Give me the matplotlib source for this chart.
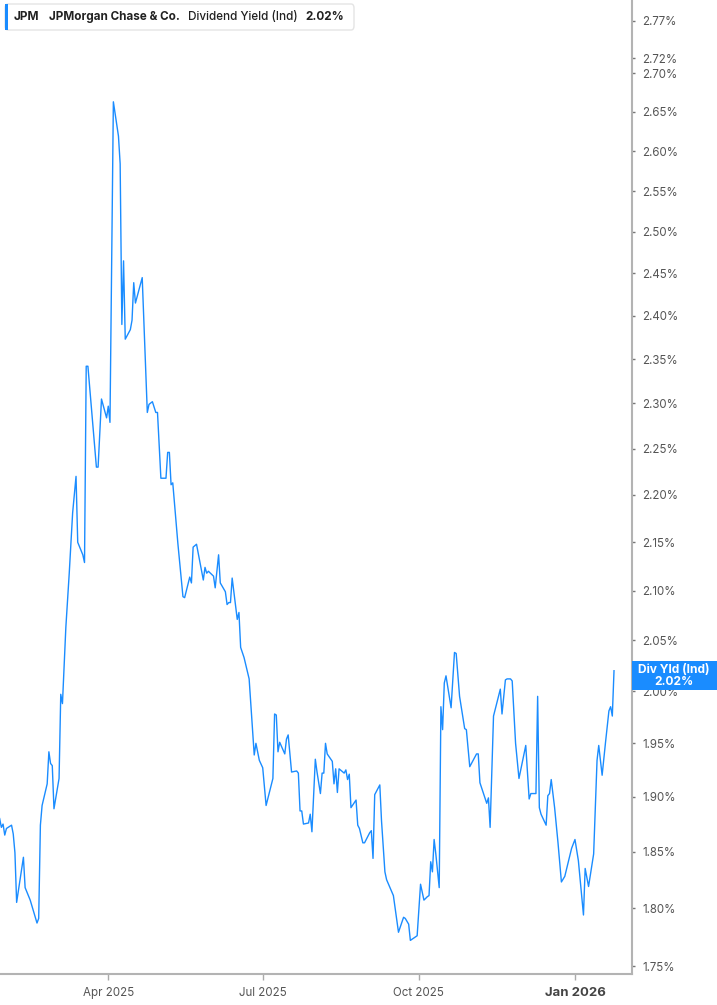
import numpy as np
import pandas as pd
import matplotlib
matplotlib.use('Agg')
import matplotlib.pyplot as plt
from matplotlib.patches import FancyBboxPatch, Rectangle
from matplotlib.ticker import FixedLocator, FixedFormatter, NullLocator, NullFormatter

plt.rcParams['font.family'] = ['Inter', 'DejaVu Sans']

# JPM dividend yield (indicated)
start = pd.Timestamp('2025-01-27')
day = [0, 1, 2, 3, 4, 7, 8, 9, 10, 14, 15, 18, 22, 23, 24, 25, 28, 29, 30, 31,
       32, 35, 36, 37, 39, 41, 43, 45, 46, 49, 50, 51, 52, 57, 58, 60, 63, 64, 65, 67,
       70, 71, 72, 73, 74, 77, 78, 79, 80, 84, 87, 88, 90, 92, 93, 95, 98, 99, 100, 101,
       102, 105, 108, 109, 112, 113, 114, 116, 120, 121, 122, 123, 126, 127, 129, 130, 133, 134, 135, 136,
       137, 140, 141, 142, 144, 147, 150, 151, 153, 155, 157, 161, 162, 163, 164, 165, 168, 169, 170, 172,
       175, 176, 177, 178, 179, 182, 183, 184, 186, 187, 189, 190, 191, 192, 193, 196, 197, 198, 199, 200,
       203, 204, 205, 206, 207, 210, 211, 212, 214, 215, 218, 219, 220, 221, 224, 225, 227, 228, 232, 235,
       238, 239, 241, 242, 246, 248, 250, 252, 253, 254, 255, 256, 257, 259, 260, 261, 262, 263, 266, 268,
       269, 271, 274, 275, 277, 281, 282, 283, 287, 288, 289, 291, 295, 296, 298, 299, 301, 302, 304, 306,
       310, 312, 313, 316, 317, 318, 319, 322, 323, 324, 325, 327, 329, 331, 333, 337, 339, 341, 344, 345,
       347, 350, 352, 353, 355, 357, 359, 360, 361, 362]
yld = [1.880, 1.872, 1.875, 1.865, 1.871, 1.874, 1.866, 1.849, 1.805, 1.845, 1.818, 1.807, 1.787, 1.791, 1.874, 1.892, 1.912, 1.942, 1.931, 1.929,
       1.889, 1.917, 1.997, 1.988, 2.063, 2.118, 2.181, 2.220, 2.150, 2.137, 2.129, 2.342, 2.342, 2.230, 2.230, 2.305, 2.284, 2.297, 2.279, 2.663,
       2.619, 2.584, 2.390, 2.465, 2.373, 2.384, 2.395, 2.439, 2.415, 2.445, 2.290, 2.299, 2.302, 2.290, 2.290, 2.218, 2.218, 2.246, 2.246, 2.211,
       2.213, 2.149, 2.094, 2.093, 2.114, 2.108, 2.145, 2.148, 2.111, 2.124, 2.118, 2.120, 2.115, 2.103, 2.137, 2.108, 2.099, 2.086, 2.088, 2.088,
       2.113, 2.071, 2.078, 2.043, 2.033, 2.012, 1.939, 1.950, 1.934, 1.927, 1.892, 1.917, 1.978, 1.977, 1.942, 1.951, 1.940, 1.954, 1.958, 1.923,
       1.924, 1.922, 1.887, 1.887, 1.875, 1.876, 1.884, 1.868, 1.935, 1.923, 1.903, 1.922, 1.922, 1.950, 1.940, 1.933, 1.912, 1.926, 1.904, 1.926,
       1.922, 1.925, 1.916, 1.921, 1.890, 1.897, 1.874, 1.871, 1.858, 1.858, 1.867, 1.869, 1.844, 1.902, 1.911, 1.878, 1.832, 1.825, 1.811, 1.779,
       1.792, 1.791, 1.786, 1.772, 1.776, 1.821, 1.807, 1.810, 1.811, 1.841, 1.832, 1.861, 1.848, 1.818, 1.985, 1.963, 2.008, 2.015, 1.984, 2.038,
       2.037, 1.995, 1.964, 1.963, 1.928, 1.940, 1.940, 1.913, 1.894, 1.899, 1.872, 1.976, 2.002, 1.978, 2.011, 2.012, 2.012, 2.010, 1.950, 1.917,
       1.948, 1.898, 1.903, 1.903, 1.995, 1.890, 1.884, 1.874, 1.901, 1.903, 1.916, 1.890, 1.858, 1.823, 1.828, 1.853, 1.861, 1.842, 1.794, 1.835,
       1.819, 1.848, 1.934, 1.948, 1.920, 1.951, 1.981, 1.985, 1.976, 2.020]

ytick_vals = [1.75, 1.80, 1.85, 1.90, 1.95, 2.00, 2.05, 2.10, 2.15, 2.20, 2.25,
              2.30, 2.35, 2.40, 2.45, 2.50, 2.55, 2.60, 2.65, 2.70, 2.72, 2.77]
xtick_dates = ['2025-04-01', '2025-07-01', '2025-10-01', '2026-01-01']
xtick_labels = ['Apr 2025', 'Jul 2025', 'Oct 2025', 'Jan 2026']

dates = start + pd.to_timedelta(day, unit='D')
last = yld[-1]

W, H = 717, 1005
fig = plt.figure(figsize=(W / 100, H / 100), dpi=100)
ax = fig.add_axes([0, 31 / H, 632 / W, 974 / H])

ax.plot(dates, yld, color='#1a8cff', lw=1.0)

ax.set_yscale('log')
ax.set_ylim(1.7433, 2.798)
ax.set_xlim(start + pd.Timedelta(days=0.2), start + pd.Timedelta(days=372.6))

ax.yaxis.tick_right()
ax.yaxis.set_major_locator(FixedLocator(ytick_vals))
ax.yaxis.set_major_formatter(FixedFormatter([f'{v:.2f}%' for v in ytick_vals]))
ax.yaxis.set_minor_locator(NullLocator())
ax.yaxis.set_minor_formatter(NullFormatter())
ax.tick_params(axis='y', which='major', direction='out', length=2.5, width=1,
               color='#777777', labelsize=8.3, labelcolor='#555555', pad=5)

ax.set_xticks(pd.to_datetime(xtick_dates))
ax.set_xticklabels(xtick_labels)
ax.tick_params(axis='x', direction='out', length=4, width=1, color='#aaaaaa',
               labelsize=8.3, labelcolor='#555555', pad=5)
xl = ax.get_xticklabels()
xl[-1].set_fontweight('bold')
xl[-1].set_color('#444444')
xl[-1].set_fontsize(9.5)

for s in ['top', 'left']:
    ax.spines[s].set_visible(False)
for s in ['right', 'bottom']:
    ax.spines[s].set_color('#b3b3b3')
    ax.spines[s].set_linewidth(1.5)

# header box
hdr = FancyBboxPatch((5 / W, 1 - 30 / H), 349 / W, 26 / H,
                     boxstyle='round,pad=0,rounding_size=0.004',
                     transform=fig.transFigure, facecolor='white',
                     edgecolor='#e4e4e4', lw=1)
fig.patches.append(hdr)
fig.patches.append(Rectangle((5 / W, 1 - 30 / H), 3 / W, 26 / H,
                             transform=fig.transFigure, facecolor='#1a8cff',
                             edgecolor='none'))
ty = 1 - 17 / H
fig.text(14 / W, ty, 'JPM', fontsize=8.5, fontweight='bold', color='#222222', va='center')
fig.text(49 / W, ty, 'JPMorgan Chase & Co.', fontsize=8.4, fontweight='bold', color='#222222', va='center')
fig.text(188 / W, ty, 'Dividend Yield (Ind)', fontsize=8.4, fontweight='medium', color='#222222', va='center')
fig.text(305 / W, ty, '2.02%', fontsize=8.5, fontweight='bold', color='#222222', va='center')

# last value tag
fig.canvas.draw()
yd = ax.transData.transform((ax.get_xlim()[1], last))[1]
yc = yd / fig.dpi / fig.get_figheight() - 5 / H
fig.patches.append(Rectangle((632 / W, yc - 14.5 / H), 85 / W, 29 / H,
                             transform=fig.transFigure, facecolor='#1a8cff',
                             edgecolor='none', zorder=5))
fig.text(674 / W, yc + 6 / H, 'Div Yld (Ind)', fontsize=8.6, fontweight='bold',
         color='white', ha='center', va='center', zorder=6)
fig.text(674 / W, yc - 6 / H, f'{last:.2f}%', fontsize=8.6, fontweight='bold',
         color='white', ha='center', va='center', zorder=6)

fig.savefig('out.png', dpi=100)
